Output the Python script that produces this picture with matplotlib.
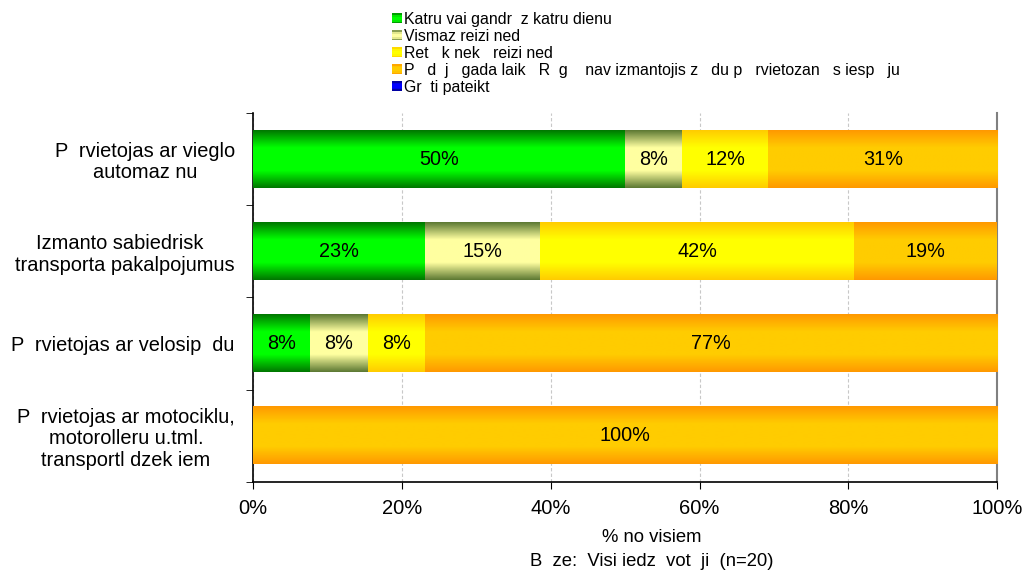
import numpy as np
import matplotlib
matplotlib.use('Agg')
import matplotlib.pyplot as plt
from matplotlib.colors import LinearSegmentedColormap
from matplotlib.patches import Rectangle
from matplotlib.legend_handler import HandlerBase

plt.rcParams['font.family'] = ['Liberation Sans', 'DejaVu Sans']

categories = ['P  rvietojas ar vieglo\nautomaz nu',
              'Izmanto sabiedrisk  \ntransporta pakalpojumus',
              'P  rvietojas ar velosip  du',
              'P  rvietojas ar motociklu,\nmotorolleru u.tml.\ntransportl dzek iem']
series = ['Katru vai gandr  z katru dienu',
          'Vismaz reizi ned',
          'Ret   k nek   reizi ned',
          'P   d  j   gada laik   R  g    nav izmantojis z   du p   rvietozan   s iesp   ju',
          'Gr  ti pateikt']
daily = [50.0, 23.1, 7.7, 0.0]
weekly = [7.7, 15.4, 7.7, 0.0]
rarely = [11.5, 42.3, 7.7, 0.0]
never = [30.8, 19.2, 76.9, 100.0]
unsure = [0.0, 0.0, 0.0, 0.0]
xticks = [0, 20, 40, 60, 80, 100]

# (edge colour, middle colour) of each gradient
colors = [('#007800', '#00FF00'),
          ('#5E7A34', '#FFFFA0'),
          ('#FFCC00', '#FFFF00'),
          ('#FF9900', '#FFCC00'),
          ('#000080', '#0000FF')]


def grad_cmap(edge, mid):
    return LinearSegmentedColormap.from_list(
        'g', [(0, edge), (0.3, mid), (0.7, mid), (1, edge)])


class GradHandler(HandlerBase):
    def create_artists(self, legend, orig_handle, xd, yd, w, h, fontsize, trans):
        cm = grad_cmap(orig_handle.get_edgecolor(), orig_handle.get_facecolor())
        n = 6
        s = h / n
        arts = []
        for i in range(n):
            r = Rectangle((-xd, -yd + i * s), h, s, facecolor=cm((i + 0.5) / n),
                          edgecolor='none', transform=trans)
            arts.append(r)
        return arts


fig = plt.figure(figsize=(10.24, 5.71), dpi=100)
ax = fig.add_axes([0.247, 0.156, 0.727, 0.646])

y = np.arange(len(categories))
left = np.zeros(len(categories))
handles = []
for vals, name, (edge, mid) in zip([daily, weekly, rarely, never, unsure], series, colors):
    vals = np.array(vals)
    bars = ax.barh(y, vals, left=left, height=0.62, color=mid, linewidth=0, zorder=2)
    cm = grad_cmap(edge, mid)
    for b, v in zip(bars, vals):
        if v <= 0:
            continue
        x0, y0, w, h = b.get_x(), b.get_y(), b.get_width(), b.get_height()
        ax.imshow(np.linspace(0, 1, 100).reshape(-1, 1), cmap=cm, aspect='auto',
                  extent=(x0, x0 + w, y0 + h, y0), interpolation='bilinear', zorder=3)
        ax.text(x0 + w / 2, y0 + h / 2, f'{v:.0f}%', ha='center', va='center',
                fontsize=14.3, color='black', zorder=4)
    left += vals
    handles.append(Rectangle((0, 0), 1, 1, facecolor=mid, edgecolor=edge))

ax.set_xlim(0, 100)
ax.set_ylim(len(categories) - 0.5, -0.5)
ax.set_xticks(xticks)
ax.set_xticklabels([f'{t}%' for t in xticks], fontsize=14.5)
ax.tick_params(axis='x', direction='out', length=5, pad=7)
ax.set_yticks(y)
ax.set_yticklabels(categories, fontsize=14.4, multialignment='center', linespacing=1.15)
ax.tick_params(axis='y', which='major', length=0, pad=13)
ax.set_yticks(np.arange(-0.5, len(categories)), minor=True)
ax.tick_params(axis='y', which='minor', direction='out', length=5)
ax.grid(axis='x', color='#C8C8C8', linestyle=(0, (3, 2)), linewidth=0.8, zorder=1)
ax.set_axisbelow(True)
ax.spines['top'].set_visible(False)
ax.spines['right'].set_color('#808080')
ax.spines['right'].set_linewidth(1.5)
ax.spines['left'].set_linewidth(1.2)
ax.spines['bottom'].set_linewidth(1.2)

fig.text(0.636, 0.059, '% no visiem', ha='center', va='center', fontsize=13.3)
fig.text(0.636, 0.017, 'B  ze:  Visi iedz  vot  ji  (n=20)', ha='center', va='center', fontsize=13.3)

fig.legend(handles, series, handler_map={Rectangle: GradHandler()},
           loc='upper left', bbox_to_anchor=(0.377, 0.99), frameon=False,
           fontsize=11.4, handlelength=0.6, handleheight=0.6, handletextpad=0.15,
           labelspacing=0.12, borderaxespad=0)

fig.savefig('out.png', dpi=100)
